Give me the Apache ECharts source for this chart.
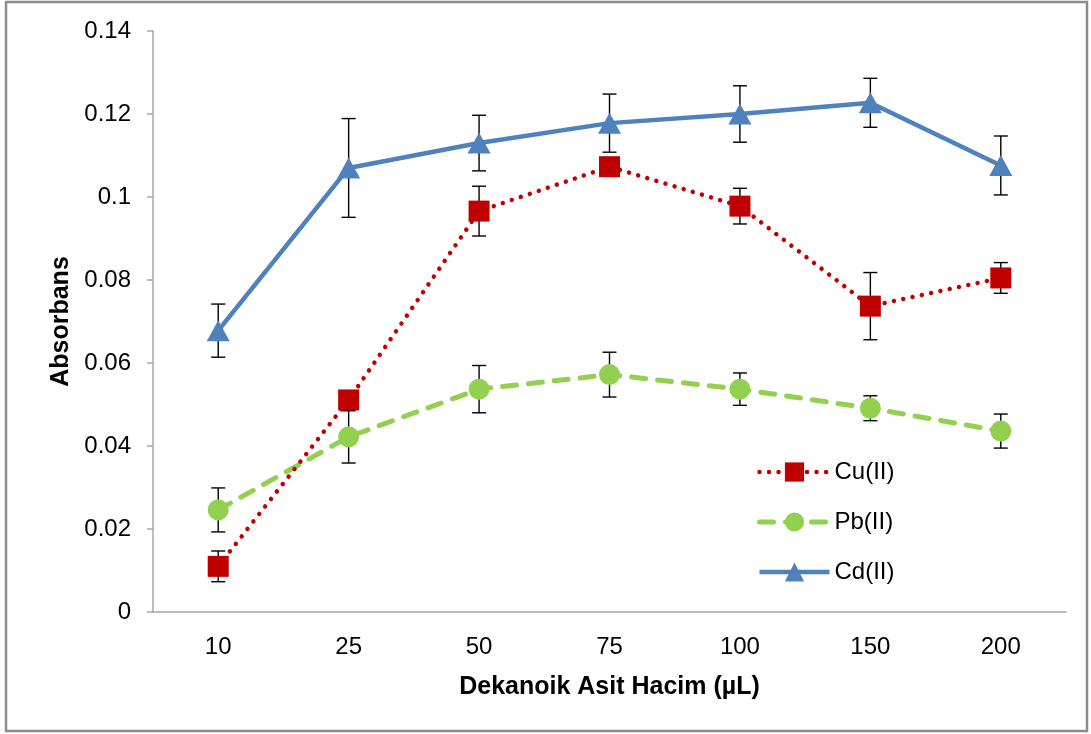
<!DOCTYPE html>
<html>
<head>
<meta charset="utf-8">
<script src="https://cdn.jsdelivr.net/npm/echarts@6/dist/echarts.min.js"></script>
<style>
html,body{margin:0;padding:0;background:#fff;}
#chart{width:1091px;height:734px;}
</style>
</head>
<body>
<div id="chart"></div>
<script>
const categories = ['10', '25', '50', '75', '100', '150', '200'];
const yTicks = [0, 0.02, 0.04, 0.06, 0.08, 0.1, 0.12, 0.14];
const cuValues = [0.0110, 0.0511, 0.0966, 0.1073, 0.0978, 0.0737, 0.0805];
const cuErrors = [0.0037, 0.0020, 0.0060, 0.0020, 0.0043, 0.0081, 0.0037];
const pbValues = [0.0246, 0.0422, 0.0537, 0.0572, 0.0537, 0.0491, 0.0436];
const pbErrors = [0.0053, 0.0063, 0.0057, 0.0054, 0.0039, 0.0030, 0.0041];
const cdValues = [0.0678, 0.1070, 0.1130, 0.1178, 0.1200, 0.1227, 0.1076];
const cdErrors = [0.0064, 0.0119, 0.0067, 0.0070, 0.0068, 0.0059, 0.0071];

const FONT = "'Liberation Sans', Arial, sans-serif";
const CU_DASH = [0.01, 9.5];
const PB_DASH = [14, 12];

function errData(vals, errs) {
  return vals.map((v, i) => [i, v, errs[i]]);
}
function errRender(params, api) {
  const i = api.value(0), v = api.value(1), e = api.value(2);
  const t = api.coord([i, v + e]);
  const b = api.coord([i, v - e]);
  const hw = 7;
  const st = { stroke: '#000', lineWidth: 1.4 };
  return {
    type: 'group',
    children: [
      { type: 'line', shape: { x1: t[0], y1: t[1], x2: b[0], y2: b[1] }, style: st },
      { type: 'line', shape: { x1: t[0] - hw, y1: t[1], x2: t[0] + hw, y2: t[1] }, style: st },
      { type: 'line', shape: { x1: b[0] - hw, y1: b[1], x2: b[0] + hw, y2: b[1] }, style: st }
    ]
  };
}
function errSeries(vals, errs, z) {
  return {
    type: 'custom', renderItem: errRender, data: errData(vals, errs),
    encode: { x: 0, y: 1 }, z: z, silent: true
  };
}

const chart = echarts.init(document.getElementById('chart'), null, { renderer: 'canvas' });
chart.setOption({
  animation: false,
  backgroundColor: '#fff',
  graphic: [{
    type: 'rect', shape: { x: 6, y: 2, width: 1081, height: 729 },
    style: { fill: 'none', stroke: '#8c8c8c', lineWidth: 2.5 }, z: 0, silent: true
  }],
  grid: { left: 153, right: 25, top: 31, bottom: 122 },
  legend: {
    orient: 'vertical', left: 752, top: 455,
    itemWidth: 70, itemHeight: 24, itemGap: 26,
    data: [
      { name: 'Cu(II)', lineStyle: { width: 4.5, type: CU_DASH, cap: 'round' } },
      { name: 'Pb(II)', lineStyle: { width: 5, type: PB_DASH, cap: 'round' } },
      { name: 'Cd(II)', lineStyle: { width: 4.5, type: 'solid' } }
    ],
    textStyle: { fontFamily: FONT, fontSize: 24, lineHeight: 24, color: '#000' }
  },
  xAxis: {
    type: 'category', data: categories, boundaryGap: true,
    name: 'Dekanoik Asit Hacim (µL)', nameLocation: 'middle', nameGap: 63,
    nameTextStyle: { fontFamily: FONT, fontSize: 25, fontWeight: 'bold', color: '#000' },
    axisLine: { lineStyle: { color: '#a6a6a6', width: 1.5 } },
    axisTick: { show: false },
    axisLabel: { fontFamily: FONT, fontSize: 24, color: '#000', margin: 23 },
    splitLine: { show: false }
  },
  yAxis: {
    type: 'value', min: 0, max: 0.14, interval: 0.02,
    name: 'Absorbans', nameLocation: 'middle', nameGap: 77,
    nameTextStyle: { fontFamily: FONT, fontSize: 25, fontWeight: 'bold', color: '#000' },
    axisLine: { show: true, lineStyle: { color: '#a6a6a6', width: 1.5 } },
    axisTick: { show: true, length: 6, lineStyle: { color: '#a6a6a6', width: 1.5 } },
    axisLabel: {
      fontFamily: FONT, fontSize: 24, color: '#000', margin: 22,
      formatter: v => { const t = yTicks.find(x => Math.abs(x - v) < 1e-9); return String(t !== undefined ? t : v); }
    },
    splitLine: { show: false }
  },
  series: [
    errSeries(cuValues, cuErrors, 1),
    errSeries(pbValues, pbErrors, 1),
    errSeries(cdValues, cdErrors, 1),
    {
      name: 'Cu(II)', type: 'line', data: cuValues, z: 3,
      symbol: 'rect', symbolSize: 21,
      itemStyle: { color: '#C00000' },
      lineStyle: { color: '#C00000', width: 4.5, type: CU_DASH, cap: 'round' }
    },
    {
      name: 'Pb(II)', type: 'line', data: pbValues, z: 2,
      symbol: 'circle', symbolSize: 21,
      itemStyle: { color: '#92D050' },
      lineStyle: { color: '#92D050', width: 5, type: PB_DASH, cap: 'round' }
    },
    {
      name: 'Cd(II)', type: 'line', data: cdValues, z: 4,
      symbol: 'triangle', symbolSize: [23, 21],
      itemStyle: { color: '#4F81BD' },
      lineStyle: { color: '#4F81BD', width: 4.5, type: 'solid' }
    }
  ]
});
</script>
</body>
</html>
